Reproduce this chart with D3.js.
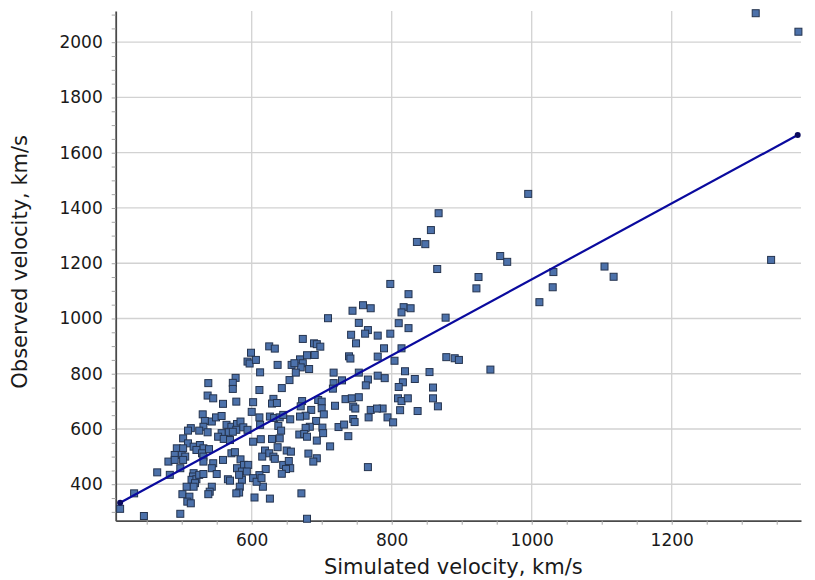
<!DOCTYPE html>
<html>
<head>
<meta charset="utf-8">
<script src="https://cdn.jsdelivr.net/npm/d3@7"></script>
<style>
  body { margin: 0; background: #ffffff; }
  text { font-family: "DejaVu Sans", Verdana, sans-serif; }
</style>
</head>
<body>
<svg id="chart" width="815" height="580"></svg>
<script>
// Simulated vs observed velocities (km/s), one entry per event
const simulated = [
  1320, 1381, 1342, 1104, 1117, 1031, 1030, 1011, 995, 955, 965, 924, 921, 941,
  867, 856, 836, 848, 865, 798, 824, 817, 814, 827, 877, 810, 824, 798, 789, 814, 804, 878, 890, 896,
  819, 854, 790, 833, 816, 810, 859, 809, 814, 823, 859, 866, 787, 812, 837, 794, 802,
  759, 770, 744, 709, 753, 766, 762, 742, 780, 673, 749, 689, 693, 698, 739, 741, 780, 679, 690, 669,
  673, 682, 717, 753, 780, 729, 766, 763, 717, 716, 672, 695, 700, 734, 743, 753, 700, 719, 745, 748,
  770, 779, 670, 685, 703, 677, 669, 767, 692, 745, 747, 683, 701, 724, 732, 677, 668, 675, 679, 702,
  738, 693, 712, 681, 693, 688, 766, 671, 679, 670,
  625, 633, 599, 594, 597, 606, 637, 612, 657, 661, 663, 654, 643, 611, 631, 602, 629, 636, 600, 611,
  626, 632, 640, 645, 655, 612, 638, 642, 602, 613, 629, 640, 619, 625, 615, 631, 633, 637, 650, 656,
  645, 653, 655, 649, 643, 620, 611, 616, 604, 626,
  538, 577, 573, 573, 537, 545, 559, 578, 530, 543, 549, 557, 533, 531, 537, 525, 513, 509, 564, 571,
  579, 584, 578, 567, 573, 557, 552, 560, 569, 588, 594, 502, 509, 493, 502, 500, 517, 526, 531, 521,
  529, 531, 539, 490, 505, 481, 490, 502, 571, 576, 559, 584, 589, 579, 595, 586, 593, 531, 545, 543,
  465, 483, 498, 517, 516, 514, 521, 519, 517, 525, 531, 550, 566, 569, 586, 582, 507, 543, 540, 538,
  583, 582, 578, 501, 511, 508, 513, 498, 432, 412, 446, 602, 607, 614
];
const observed = [
  2105, 2038, 1212, 1188, 1151, 1168, 1113, 1059, 1451, 1226, 1205, 1150, 1109, 815,
  1381, 1320, 1277, 1269, 1179, 1125, 1088, 1041, 1022, 1037, 1003, 983, 965, 945, 892, 892, 847, 860, 856, 850,
  809, 806, 784, 781, 769, 752, 750, 711, 701, 711, 711, 682, 674, 668, 665, 642, 624,
  1048, 1037, 1028, 1001, 984, 958, 945, 941, 938, 926, 910, 910, 907, 898, 863, 855, 862, 867, 868, 852,
  838, 817, 804, 804, 793, 776, 779, 758, 766, 746, 701, 705, 699, 708, 711, 715, 675, 684, 681, 674,
  669, 674, 682, 669, 653, 648, 645, 642, 629, 636, 625, 608, 605, 607, 616, 604, 580, 582, 572, 585,
  574, 558, 537, 511, 494, 482, 462, 367, 275, 823,
  899, 891, 876, 844, 837, 850, 832, 805, 832, 838, 804, 777, 748, 741, 709, 697, 692, 694, 662, 642,
  645, 640, 642, 651, 635, 615, 611, 594, 554, 563, 564, 566, 522, 512, 500, 500, 492, 534, 522, 518,
  470, 484, 458, 455, 438, 455, 433, 391, 352, 348,
  766, 785, 767, 745, 721, 711, 691, 699, 653, 627, 642, 647, 629, 608, 588, 594, 603, 594, 615, 608,
  618, 627, 597, 588, 590, 585, 572, 564, 560, 606, 597, 566, 548, 530, 530, 506, 536, 542, 530, 524,
  512, 500, 527, 506, 500, 482, 488, 488, 512, 516, 488, 490, 470, 458, 470, 446, 446, 482, 476, 458,
  443, 434, 458, 440, 428, 416, 418, 404, 391, 434, 437, 437, 418, 413, 416, 434, 391, 391, 373, 364,
  391, 370, 367, 364, 355, 337, 331, 293, 367, 311, 285, 422, 409, 422
];

// Least-squares fit line, drawn between the smallest and largest simulated value
const fitSimulated = [412, 1380];
const fitObserved = [333, 1664];

const xTicks = [600, 800, 1000, 1200];
const yTicks = [400, 600, 800, 1000, 1200, 1400, 1600, 1800, 2000];
const xTitle = "Simulated velocity, km/s";
const yTitle = "Observed velocity, km/s";

const svg = d3.select("#chart");
const plot = { left: 115.7, right: 801, top: 11, bottom: 520.7 };

const x = d3.scaleLinear().domain([405.7, 1384.7]).range([plot.left, plot.right]);
const y = d3.scaleLinear().domain([268, 2113]).range([plot.bottom, plot.top]);

// grid
const grid = svg.append("g").attr("stroke", "#d2d2d2").attr("stroke-width", 1.3);
grid.selectAll("line.h").data(yTicks).join("line")
  .attr("x1", plot.left).attr("x2", plot.right)
  .attr("y1", d => y(d)).attr("y2", d => y(d));
grid.selectAll("line.v").data(xTicks).join("line")
  .attr("x1", d => x(d)).attr("x2", d => x(d))
  .attr("y1", plot.top).attr("y2", plot.bottom);

// axes: a small tick every 50, labels on the major values
const xMinor = d3.range(450, 1385, 50);
const yMinor = d3.range(300, 2113, 50);

const xAxis = d3.axisBottom(x).tickValues(xMinor)
  .tickFormat(d => xTicks.includes(d) ? d : "")
  .tickSize(4).tickSizeOuter(0).tickPadding(9);
const yAxis = d3.axisLeft(y).tickValues(yMinor)
  .tickFormat(d => yTicks.includes(d) ? d : "")
  .tickSize(4).tickSizeOuter(0).tickPadding(9);

function styleAxis(g) {
  g.select(".domain").attr("stroke", "#4a4a4a").attr("stroke-width", 1.8);
  g.selectAll(".tick line").attr("stroke", "#a6a6a6").attr("stroke-width", 1);
  g.selectAll(".tick text").attr("fill", "#1a1a1a")
    .style("font-size", "17px").style("font-family", "'DejaVu Sans', Verdana, sans-serif");
}

svg.append("g").attr("transform", `translate(0,${plot.bottom})`).call(xAxis).call(styleAxis);
svg.append("g").attr("transform", `translate(${plot.left},0)`).call(yAxis).call(styleAxis);

// points
const pts = simulated.map((s, i) => ({ s, o: observed[i] }));
const size = 7;
svg.append("g").selectAll("rect").data(pts).join("rect")
  .attr("x", d => x(d.s) - size / 2)
  .attr("y", d => y(d.o) - size / 2)
  .attr("width", size).attr("height", size)
  .attr("fill", "#4c71aa")
  .attr("stroke", "#25344f")
  .attr("stroke-width", 1);

// fit line with end markers
const fit = fitSimulated.map((s, i) => ({ s, o: fitObserved[i] }));
svg.append("path").datum(fit)
  .attr("fill", "none").attr("stroke", "#0a0a9e").attr("stroke-width", 2.2)
  .attr("d", d3.line().x(d => x(d.s)).y(d => y(d.o)));
svg.append("g").selectAll("circle").data(fit).join("circle")
  .attr("cx", d => x(d.s)).attr("cy", d => y(d.o)).attr("r", 3)
  .attr("fill", "#0a0a5e");

// titles
svg.append("text")
  .attr("x", (plot.left + plot.right) / 2 - 5).attr("y", 574)
  .attr("text-anchor", "middle").attr("fill", "#1a1a1a")
  .style("font-size", "21px").text(xTitle);
svg.append("text")
  .attr("transform", `translate(27,${(plot.top + plot.bottom) / 2 - 4}) rotate(-90)`)
  .attr("text-anchor", "middle").attr("fill", "#1a1a1a")
  .style("font-size", "21px").text(yTitle);
</script>
</body>
</html>
